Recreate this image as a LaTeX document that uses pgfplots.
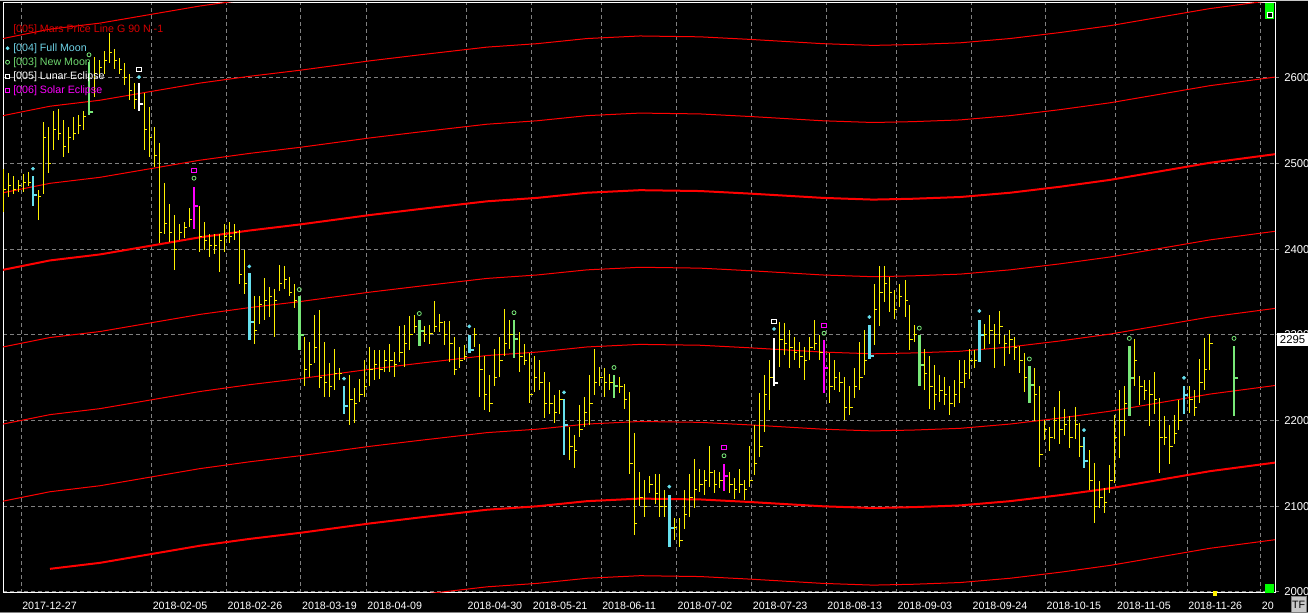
\documentclass[border=0pt]{standalone}
\usepackage{fontspec}
\setmainfont{Liberation Sans}
\usepackage{pgfplots}
\pgfplotsset{compat=1.18}
\usepackage{pgfplotstable}

\definecolor{cyanm}{RGB}{102,224,238}
\definecolor{greenm}{RGB}{120,232,120}
\definecolor{magm}{RGB}{255,0,255}
\definecolor{gridg}{RGB}{128,128,128}
\definecolor{titlered}{RGB}{215,0,0}
\definecolor{fmtext}{RGB}{110,210,230}
\definecolor{nmtext}{RGB}{110,215,110}
\definecolor{tfgray}{RGB}{200,200,200}
\newcommand\fs{\fontsize{8}{9.6}\selectfont}
\newcommand\fy{\fontsize{8.5}{10}\selectfont}

% x = bar position (px along the time axis), l/h = low/high, c = close
\pgfplotstableread{
x l h c
3 2443 2494 2470
8 2461 2489 2475
13 2465 2485 2470
18 2467 2481 2474
23 2467 2488 2478
28 2474 2490 2478
38 2434 2469 2462
43 2465 2549 2530
48 2489 2543 2500
53 2516 2562 2540
58 2527 2564 2535
63 2508 2551 2520
68 2512 2543 2530
73 2527 2555 2535
78 2535 2557 2545
83 2539 2562 2555
94 2578 2625 2605
99 2601 2621 2612
104 2605 2631 2620
109 2617 2652 2630
114 2611 2634 2620
119 2605 2623 2610
124 2592 2617 2600
129 2574 2605 2585
134 2564 2594 2575
144 2516 2582 2540
149 2508 2566 2530
154 2496 2543 2510
159 2407 2524 2420
164 2418 2477 2430
169 2409 2453 2420
174 2376 2440 2400
179 2411 2430 2420
184 2413 2432 2425
189 2426 2448 2435
199 2397 2450 2415
204 2399 2432 2410
209 2391 2418 2405
214 2395 2418 2405
219 2374 2418 2410
224 2397 2430 2415
229 2407 2432 2415
234 2411 2430 2420
239 2360 2422 2370
244 2348 2399 2360
254 2290 2345 2305
259 2313 2345 2335
264 2317 2366 2340
269 2321 2356 2345
274 2298 2354 2340
279 2351 2382 2360
284 2354 2380 2365
289 2345 2368 2350
294 2331 2360 2340
304 2240 2298 2260
309 2251 2292 2265
314 2267 2323 2285
319 2238 2329 2250
324 2228 2292 2245
329 2228 2267 2240
334 2236 2284 2255
339 2247 2261 2255
349.3 2195 2253 2225
354 2197 2238 2220
359.3 2222 2249 2230
364 2228 2271 2240
369.3 2240 2286 2260
374 2247 2282 2265
379.3 2249 2282 2260
384 2257 2282 2270
389.3 2257 2290 2270
394 2251 2280 2265
399.3 2269 2310 2280
404 2263 2312 2290
409.3 2282 2322 2300
414 2302 2323 2310
424 2292 2310 2300
429.3 2290 2312 2302
434 2304 2340 2310
439.3 2304 2325 2315
444 2288 2316 2300
449.3 2269 2316 2290
454 2253 2298 2260
459.3 2261 2286 2270
464 2271 2288 2275
474 2286 2308 2300
479.3 2228 2290 2260
484 2212 2275 2230
489.3 2210 2253 2220
494 2240 2284 2250
499.3 2251 2298 2270
504 2275 2330 2290
509.3 2284 2317 2300
519.3 2257 2304 2275
524 2265 2290 2270
529.3 2220 2279 2230
534 2234 2275 2250
539.3 2236 2271 2245
544 2203 2257 2220
549.3 2208 2245 2220
554 2197 2230 2210
559.3 2208 2236 2225
569.3 2154 2193 2170
574 2145 2183 2165
579.3 2181 2218 2190
584 2193 2228 2210
589.3 2195 2253 2220
594 2230 2284 2245
599.3 2240 2263 2250
604 2228 2261 2245
609.3 2236 2255 2245
619.3 2232 2251 2240
624 2214 2243 2225
629.3 2138 2234 2150
634 2066 2185 2080
639.3 2100 2140 2110
644 2088 2131 2100
649.3 2115 2135 2125
655 2103 2138 2115
659.3 2088 2138 2100
664 2088 2119 2100
674 2061 2086 2075
679.3 2053 2086 2060
684 2074 2119 2090
689.3 2088 2138 2110
694 2098 2155 2120
699.3 2117 2144 2125
704 2113 2142 2130
709.3 2123 2170 2140
714 2115 2142 2125
719.3 2121 2140 2130
729.3 2115 2140 2125
734 2109 2133 2120
739.3 2115 2144 2125
744 2107 2131 2120
749.3 2123 2170 2130
754 2137 2195 2150
759.3 2158 2232 2170
764 2187 2253 2230
769.3 2212 2271 2250
779.3 2263 2315 2295
784 2277 2314 2290
789.3 2261 2306 2285
794 2271 2298 2280
799.3 2261 2292 2275
804 2247 2286 2270
809.3 2271 2298 2285
814 2282 2318 2290
819.3 2271 2300 2280
829.3 2220 2279 2240
834 2236 2271 2250
839.3 2234 2257 2245
844 2201 2251 2215
849.3 2207 2240 2215
854 2226 2261 2240
859.3 2236 2292 2250
864 2253 2306 2270
874 2288 2360 2330
879.3 2310 2380 2350
884 2338 2380 2360
889 2327 2368 2350
894 2319 2352 2330
899 2333 2360 2345
905 2321 2364 2340
909.3 2282 2335 2295
914 2292 2312 2300
924 2236 2284 2255
929.3 2214 2275 2240
934 2212 2265 2230
939.3 2222 2253 2235
944 2218 2251 2230
949.3 2207 2240 2220
954 2216 2247 2230
959.3 2220 2271 2245
964 2238 2271 2255
969.3 2249 2284 2270
974 2261 2282 2270
984 2284 2313 2300
989.3 2290 2323 2305
994 2262 2313 2300
999.3 2290 2328 2310
1004 2264 2300 2290
1009.3 2278 2306 2295
1014 2271 2298 2285
1019.3 2256 2287 2270
1024 2234 2279 2250
1034 2199 2261 2230
1039.3 2146 2240 2160
1044 2177 2201 2190
1049.3 2164 2193 2180
1054 2179 2216 2200
1059.3 2173 2235 2190
1064 2183 2214 2195
1069.3 2168 2205 2180
1075 2179 2216 2195
1079.3 2158 2197 2170
1089.3 2119 2166 2130
1094 2080 2150 2100
1099.3 2098 2129 2110
1104 2092 2121 2105
1109.3 2115 2148 2130
1114 2127 2207 2180
1119.3 2156 2236 2200
1124 2182 2240 2220
1134 2240 2295 2270
1139.3 2218 2252 2240
1144 2224 2247 2235
1149.3 2194 2247 2230
1154 2208 2257 2225
1159.3 2139 2226 2180
1164 2172 2205 2180
1169.3 2149 2195 2170
1174 2173 2207 2185
1178.3 2189 2224 2200
1189.3 2209 2240 2225
1194 2205 2236 2215
1199.3 2220 2272 2245
1204 2236 2296 2260
1209.3 2259 2301 2290
}\ybars

% full moon bars
\pgfplotstableread{
x l h c
33 2450 2485 2463
249.3 2294 2372 2315
344 2208 2240 2217
469.3 2279 2300 2283
564 2160 2225 2195
669.3 2053 2113 2075
869.3 2272 2312 2275
979.3 2269 2318 2300
1084 2145 2181 2153
1184 2208 2240 2230
}\fmbars

% new moon bars
\pgfplotstableread{
x l h c
89 2557 2619 2560
299.3 2282 2345 2300
419.3 2287 2317 2305
514 2273 2317 2295
614 2226 2253 2240
919.3 2240 2300 2265
1029.3 2221 2264 2242
1129.3 2205 2287 2250
1234 2205 2287 2250
}\nmbars

% lunar eclipse bars
\pgfplotstableread{
x l h c
139 2561 2594 2570
774 2241 2297 2244
}\lebars

% solar eclipse bars
\pgfplotstableread{
x l h c
194 2424 2473 2450
724 2118 2149 2135
824 2232 2294 2262
}\sebars

% markers above the bars
\pgfplotstableread{
x y
33 2494
139 2601
249.3 2380
344 2249
469.3 2310
564 2233
669.3 2123
774 2307
869.3 2321
979.3 2328
1084 2189
1184 2250
}\fmdots

\pgfplotstableread{
x y
89 2627
194 2483
299.3 2353
419.3 2325
514 2326
614 2262
724 2159
824 2302
919.3 2308
1029.3 2272
1129.3 2296
1234 2296
}\nmdots

\pgfplotstableread{
x y
139 2610
774 2316
}\ledots

\pgfplotstableread{
x y
194 2492
724 2169
824 2311
}\sedots

% Mars price lines, 90 apart
\pgfplotstableread{
x m450 m360 m270 m180 m90 b p90 p180 p270
3 1926 2016 2106 2196 2286 2376 2466 2556 2646
50 1937 2027 2117 2207 2297 2387 2477 2567 2657
100 1944 2034 2124 2214 2304 2394 2484 2574 2664
150 1954 2044 2134 2224 2314 2404 2494 2584 2674
200 1964 2054 2144 2234 2324 2414 2504 2594 2684
250 1972 2062 2152 2242 2332 2422 2512 2602 2692
300 1979 2069 2159 2249 2339 2429 2519 2609 2699
370 1990 2080 2170 2260 2350 2440 2530 2620 2710
420 1997 2087 2177 2267 2357 2447 2537 2627 2717
487 2006 2096 2186 2276 2366 2456 2546 2636 2726
537 2010 2100 2190 2280 2370 2460 2550 2640 2730
587 2016 2106 2196 2286 2376 2466 2556 2646 2736
640 2019 2109 2199 2289 2379 2469 2559 2649 2739
700 2018 2108 2198 2288 2378 2468 2558 2648 2738
750 2015 2105 2195 2285 2375 2465 2555 2645 2735
823 2010 2100 2190 2280 2370 2460 2550 2640 2730
873 2008 2098 2188 2278 2368 2458 2548 2638 2728
913 2009 2099 2189 2279 2369 2459 2549 2639 2729
960 2011 2101 2191 2281 2371 2461 2551 2641 2731
1010 2016 2106 2196 2286 2376 2466 2556 2646 2736
1060 2023 2113 2203 2293 2383 2473 2563 2653 2743
1110 2031 2121 2211 2301 2391 2481 2571 2661 2751
1160 2041 2131 2221 2311 2401 2491 2581 2671 2761
1210 2051 2141 2231 2321 2411 2501 2591 2681 2771
1275 2061 2151 2241 2331 2421 2511 2601 2691 2781
}\mars

\pgfplotsset{
  ohlc/.style n args={3}{draw=none, forget plot,
    error bars/.cd, y dir=both, y explicit, error mark=none,
    error bar style={draw=#1, line width=#2}},
  closetick/.style n args={3}{only marks, forget plot, mark=-, mark size=#3,
    mark options={draw=#1, line width=#2, xshift=#3}},
}

\begin{document}
\begin{tikzpicture}
\fill[black] (0,0) rectangle (981pt,459.75pt);
\draw[tfgray, line width=0.75pt] (0,459.4pt) -- (981pt,459.4pt);
\draw[gridg, line width=0.75pt] (0,0.4pt) -- (981pt,0.4pt);
\begin{axis}[
  at={(2.25pt,15pt)}, anchor=south west,
  scale only axis, width=954pt, height=442.5pt,
  xmin=3, xmax=1275, ymin=1998.8, ymax=2687.5,
  axis line style={white, line width=0.75pt},
  /pgf/number format/assume math mode=true,
  /pgf/number format/1000 sep={},
  xtick={21,151.5,226.4,300.9,366.2,466.3,531.6,601,676.4,751.6,826.2,896.3,971.4,1045.3,1115.8,1187.1,1260.6},
  xticklabels={2017-12-27,2018-02-05,2018-02-26,2018-03-19,2018-04-09,2018-04-30,2018-05-21,2018-06-11,2018-07-02,2018-07-23,2018-08-13,2018-09-03,2018-09-24,2018-10-15,2018-11-05,2018-11-26,20},
  xtick style={draw=none},
  xticklabel style={anchor=north west, text=white, font=\fs, inner sep=0pt, xshift=0.75pt, yshift=-3.75pt},
  ytick={2000,2100,2200,2300,2400,2500,2600},
  ytick pos=right, yticklabel pos=right,
  tick align=outside, major tick length=3pt,
  ytick style={gridg, line width=0.75pt},
  yticklabel style={anchor=west, text=white, font=\fy, inner sep=0pt, xshift=3.75pt},
  grid=major,
  major grid style={gridg, line width=0.75pt, dash pattern=on 3pt off 2.25pt},
  extra y ticks={2295}, extra y tick labels={2295},
  extra y tick style={grid=none, major tick length=0pt,
    yticklabel style={fill=white, text=black, inner xsep=2pt, inner ysep=1.5pt,
      text height=6.5pt, text depth=0pt, xshift=-2.25pt}},
  legend cell align=left,
  legend style={at={(rel axis cs:0,1)}, anchor=north west, xshift=1.4pt, yshift=-28.5pt,
    draw=none, fill=none, inner sep=0pt, row sep=0pt, column sep=2.5pt, font=\fs,
    nodes={inner sep=0pt, text height=7.5pt, text depth=3pt}},
]
\addlegendimage{legend image code/.code={\fill[cyanm] (0pt,0pt) circle (1.2pt);}}
\addlegendentry{\textcolor{fmtext}{[004] Full Moon}}
\addlegendimage{legend image code/.code={\draw[greenm, line width=0.6pt] (0pt,0pt) circle (1.5pt);}}
\addlegendentry{\textcolor{nmtext}{[003] New Moon}}
\addlegendimage{legend image code/.code={\draw[white, line width=0.6pt] (-1.5pt,-1.5pt) rectangle (1.5pt,1.5pt);}}
\addlegendentry{\textcolor{white}{[005] Lunar Eclipse}}
\addlegendimage{legend image code/.code={\draw[magm, line width=0.6pt] (-1.5pt,-1.5pt) rectangle (1.5pt,1.5pt);}}
\addlegendentry{\textcolor{magm}{[006] Solar Eclipse}}

% Mars price lines
\addplot[red, line width=0.75pt, forget plot] table[x=x, y=m450] \mars;
\addplot[red, line width=1.5pt, forget plot, restrict x to domain=49:1300] table[x=x, y=m360] \mars;
\addplot[red, line width=0.75pt, forget plot] table[x=x, y=m270] \mars;
\addplot[red, line width=0.75pt, forget plot] table[x=x, y=m180] \mars;
\addplot[red, line width=0.75pt, forget plot] table[x=x, y=m90] \mars;
\addplot[red, line width=1.5pt, forget plot] table[x=x, y=b] \mars;
\addplot[red, line width=0.75pt, forget plot] table[x=x, y=p90] \mars;
\addplot[red, line width=0.75pt, forget plot] table[x=x, y=p180] \mars;
\addplot[red, line width=0.75pt, forget plot] table[x=x, y=p270] \mars;

% price bars
\addplot[ohlc={yellow}{0.75pt}{}] table[x=x, y=c,
  y error plus expr=\thisrow{h}-\thisrow{c}, y error minus expr=\thisrow{c}-\thisrow{l}] \ybars;
\addplot[closetick={yellow}{0.75pt}{1.2pt}] table[x=x, y=c] \ybars;

\addplot[ohlc={cyanm}{2pt}{}] table[x=x, y=c,
  y error plus expr=\thisrow{h}-\thisrow{c}, y error minus expr=\thisrow{c}-\thisrow{l}] \fmbars;
\addplot[closetick={cyanm}{1.5pt}{1.6pt}] table[x=x, y=c] \fmbars;
\addplot[ohlc={greenm}{2pt}{}] table[x=x, y=c,
  y error plus expr=\thisrow{h}-\thisrow{c}, y error minus expr=\thisrow{c}-\thisrow{l}] \nmbars;
\addplot[closetick={greenm}{1.5pt}{1.6pt}] table[x=x, y=c] \nmbars;
\addplot[ohlc={white}{2pt}{}] table[x=x, y=c,
  y error plus expr=\thisrow{h}-\thisrow{c}, y error minus expr=\thisrow{c}-\thisrow{l}] \lebars;
\addplot[closetick={white}{1.5pt}{1.6pt}] table[x=x, y=c] \lebars;
\addplot[ohlc={magm}{2pt}{}] table[x=x, y=c,
  y error plus expr=\thisrow{h}-\thisrow{c}, y error minus expr=\thisrow{c}-\thisrow{l}] \sebars;
\addplot[closetick={magm}{1.5pt}{1.6pt}] table[x=x, y=c] \sebars;

% event markers
\addplot[only marks, forget plot, mark=*, mark size=1.2pt, mark options={draw=cyanm, fill=cyanm}] table[x=x, y=y] \fmdots;
\addplot[only marks, forget plot, mark=o, mark size=1.5pt, mark options={draw=greenm, line width=0.6pt}] table[x=x, y=y] \nmdots;
\addplot[only marks, forget plot, mark=square, mark size=1.6pt, mark options={draw=white, line width=0.6pt}] table[x=x, y=y] \ledots;
\addplot[only marks, forget plot, mark=square, mark size=1.6pt, mark options={draw=magm, line width=0.6pt}] table[x=x, y=y] \sedots;
\end{axis}

\node[anchor=west, inner sep=0pt, text=titlered, font=\fs] at (9.75pt,437.25pt) {[005] Mars Price Line G 90 N -1};

% terminal widgets
\fill[green] (948.75pt,445.5pt) rectangle (955.5pt,457.5pt);
\filldraw[fill=black, draw=white, line width=0.5pt] (950.2pt,446.6pt) rectangle (954pt,450.2pt);
\fill[green] (948.75pt,15.2pt) rectangle (955.5pt,21.5pt);
\fill[yellow] (909.75pt,12.75pt) rectangle (912.5pt,16.5pt);
\filldraw[fill=tfgray, draw=gridg, line width=0.75pt] (968.5pt,0.4pt) rectangle (979.5pt,12pt);
\node[font=\fs, text=black, inner sep=0pt] at (974pt,6.2pt) {TF};

\pgfresetboundingbox
\path (0,0) rectangle (981pt,459.75pt);
\end{tikzpicture}
\end{document}
